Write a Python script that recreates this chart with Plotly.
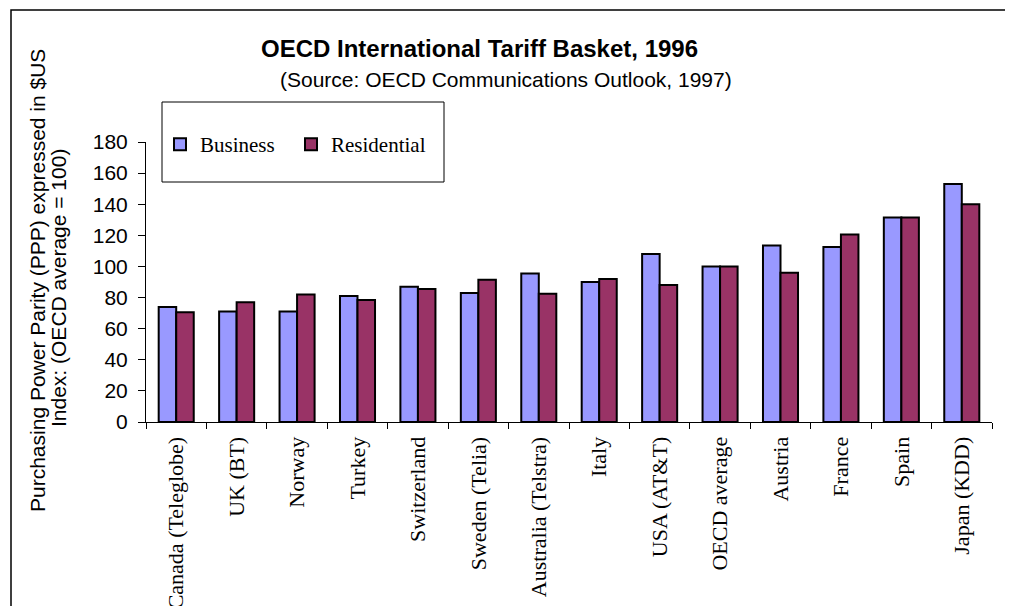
import plotly.graph_objects as go

categories = ["Canada (Teleglobe)", "UK (BT)", "Norway", "Turkey", "Switzerland",
              "Sweden (Telia)", "Australia (Telstra)", "Italy", "USA (AT&T)",
              "OECD average", "Austria", "France", "Spain", "Japan (KDD)"]
business = [74, 71, 71, 81, 87, 83, 95.5, 90, 108, 100, 113.5, 112.5, 131.5, 153]
residential = [70.5, 77, 82, 78.5, 85.5, 91.5, 82.5, 92, 88, 100, 96, 120.5, 131.5, 140]
y_ticks = [0, 20, 40, 60, 80, 100, 120, 140, 160, 180]

SANS = "Liberation Sans, Arial, sans-serif"
SERIF = "Liberation Serif, Times New Roman, serif"

fig = go.Figure()
fig.add_trace(go.Bar(name="Business", x=categories, y=business, legend="legend",
                     marker=dict(color="#9999FF", line=dict(color="black", width=2))))
fig.add_trace(go.Bar(name="Residential", x=categories, y=residential, legend="legend2",
                     marker=dict(color="#993366", line=dict(color="black", width=2))))

OFF = 8  # page body margin offset
W, H = 1013, 606
# plot area in window pixels: x 146..992, y 142..422
L = 146 - OFF
R = W - (992 - OFF)
T = 142 - OFF
B = H - (422 - OFF)
pw = W - L - R
ph = H - T - B

def px_x(x):
    return (x - OFF - L) / pw

def px_y(y):
    return (H - B - (y - OFF)) / ph

legend_common = dict(orientation="h", xref="container", yref="container",
                     xanchor="left", yanchor="top",
                     font=dict(family=SERIF, size=21, color="black"),
                     bgcolor="rgba(0,0,0,0)", borderwidth=0)
leg_y = 1 - (128 - OFF - 4) / H

fig.update_layout(
    width=W, height=H,
    margin=dict(l=L, r=R, t=T, b=B, autoexpand=False),
    paper_bgcolor="white", plot_bgcolor="white",
    barmode="group", bargap=0.42, bargroupgap=0,
    showlegend=True,
    legend=dict(x=(200 - OFF - 40) / W, y=leg_y, **legend_common),
    legend2=dict(x=(331 - OFF - 40) / W, y=leg_y, **legend_common),
    font=dict(family=SANS, size=21, color="black"),
    xaxis=dict(type="category", tickson="boundaries", ticks="outside", ticklen=6,
               tickcolor="black", showline=True, linecolor="black", linewidth=1,
               tickangle=-90, tickfont=dict(family=SERIF, size=22, color="black"),
               showgrid=False, zeroline=False, automargin=False, ticklabelstandoff=5),
    yaxis=dict(range=[0, 180], tickvals=y_ticks, ticks="outside", ticklen=7,
               tickcolor="black", showline=True, linecolor="black", linewidth=1,
               tickfont=dict(family=SANS, size=21, color="black"),
               showgrid=False, zeroline=False, ticklabelstandoff=6, automargin=False),
)

fig.add_annotation(text="<b>OECD International Tariff Basket, 1996</b>",
                   xref="paper", yref="paper", x=px_x(479), y=px_y(48),
                   xanchor="center", yanchor="middle", showarrow=False,
                   font=dict(family=SANS, size=24, color="black"))
fig.add_annotation(text="(Source: OECD Communications Outlook, 1997)",
                   xref="paper", yref="paper", x=px_x(506), y=px_y(80),
                   xanchor="center", yanchor="middle", showarrow=False,
                   font=dict(family=SANS, size=21, color="black"))
fig.add_annotation(text="Purchasing Power Parity (PPP) expressed in $US",
                   xref="paper", yref="paper", x=px_x(37), y=px_y(281),
                   xanchor="center", yanchor="middle", showarrow=False, textangle=-90,
                   font=dict(family=SANS, size=21, color="black"))
fig.add_annotation(text="Index: (OECD average = 100)",
                   xref="paper", yref="paper", x=px_x(58), y=px_y(288),
                   xanchor="center", yanchor="middle", showarrow=False, textangle=-90,
                   font=dict(family=SANS, size=21, color="black"))

# legend box
fig.add_shape(type="rect", xref="paper", yref="paper",
              x0=px_x(162), x1=px_x(444), y0=px_y(182), y1=px_y(102),
              line=dict(color="black", width=1), fillcolor="rgba(0,0,0,0)")
# outer chart border (open on right/bottom, as cropped)
fig.add_shape(type="rect", xref="paper", yref="paper",
              x0=px_x(11), x1=px_x(1040), y0=px_y(640), y1=px_y(10),
              line=dict(color="black", width=1.5), fillcolor="rgba(0,0,0,0)")

fig.write_html("out.html")
